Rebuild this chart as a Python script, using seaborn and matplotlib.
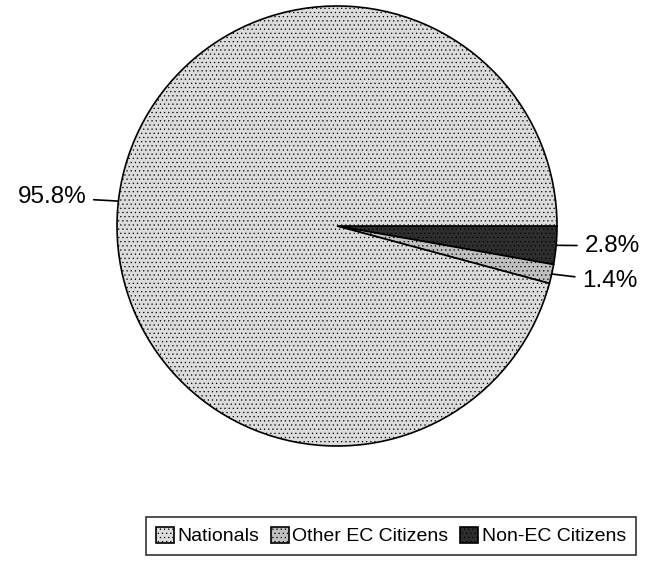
import matplotlib
matplotlib.use("Agg")
import matplotlib.pyplot as plt
import seaborn as sns
import numpy as np

# Data
labels = ["Nationals", "Other EC Citizens", "Non-EC Citizens"]
shares = [95.8, 1.4, 2.8]
colors = ["#dcdcdc", "#c0c0c0", "#2e2e2e"]
hatches = ["....", "....", "...."]

sns.set_style("white")
plt.rcParams["font.family"] = ["Liberation Sans", "DejaVu Sans"]
plt.rcParams["text.color"] = "black"
plt.rcParams["hatch.linewidth"] = 0.4

fig = plt.figure(figsize=(6.5, 5.62), dpi=100)
ax = fig.add_axes([117 / 650, (562 - 446) / 562, 440 / 650, 440 / 562])

# draw clockwise from 3 o'clock: Non-EC, Other EC, Nationals
order = [2, 1, 0]
wedges, _ = ax.pie([shares[i] for i in order],
                   colors=[colors[i] for i in order],
                   startangle=0, counterclock=False,
                   wedgeprops=dict(edgecolor="black", linewidth=1.2))
for w, i in zip(wedges, order):
    w.set_hatch(hatches[i])
    w.set_label(labels[i])
ax.set_aspect("equal")
ax.set_xlim(-1.0, 1.0)
ax.set_ylim(-1.0, 1.0)

# percentage labels with leader lines
label_pos = {0: (-1.14, 0.13, "right"), 2: (1.125, -0.09, "left"), 1: (1.115, -0.25, "left")}
for w, i in zip(wedges, order):
    ang = np.deg2rad((w.theta1 + w.theta2) / 2)
    if i == 0:
        ang = np.deg2rad(173.5)
    x0, y0 = np.cos(ang), np.sin(ang)
    tx, ty, ha = label_pos[i]
    ax.annotate(f"{shares[i]:.1f}%", xy=(x0, y0), xytext=(tx, ty),
                ha=ha, va="center", fontsize=17.5, color="black",
                arrowprops=dict(arrowstyle="-", color="black", lw=1.2,
                                shrinkA=3, shrinkB=0),
                annotation_clip=False)

handles = [wedges[order.index(i)] for i in range(3)]
leg = fig.legend(handles, labels, loc="center",
                 bbox_to_anchor=(391 / 650, 1 - 536 / 562), ncol=3,
                 frameon=True, fancybox=False, edgecolor="black",
                 fontsize=14, handlelength=0.9, handleheight=0.9,
                 handletextpad=0.2, columnspacing=0.6, borderpad=0.5,
                 borderaxespad=0)
leg.get_frame().set_linewidth(1.2)

fig.savefig("out.png", dpi=100)
